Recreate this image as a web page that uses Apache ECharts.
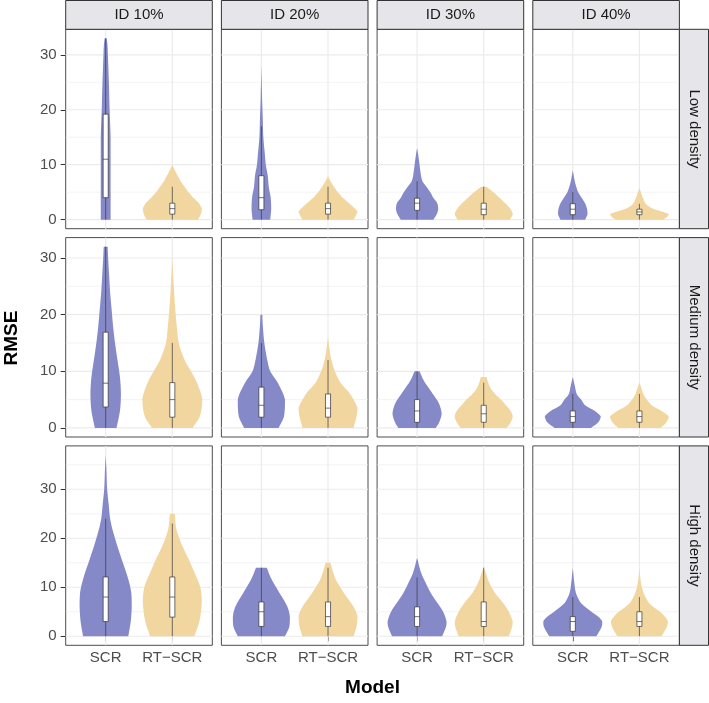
<!DOCTYPE html>
<html>
<head>
<meta charset="utf-8">
<title>RMSE by model</title>
<script src="https://cdn.jsdelivr.net/npm/echarts@6/dist/echarts.min.js"></script>
<style>
  html, body { margin: 0; padding: 0; background: #fff; }
  #chart { width: 709px; height: 703px; }
</style>
</head>
<body>
<div id="chart"></div>
<script>
// facet levels
const idLevels = ['ID 10%', 'ID 20%', 'ID 30%', 'ID 40%'];
const densityLevels = ['Low density', 'Medium density', 'High density'];
const models = ['SCR', 'RT\u2212SCR'];

// violin outlines as [RMSE, density] pairs, order: ID10 SCR, ID10 RT-SCR, ID20 SCR, ...
const lowProfiles = [
  [[0, 10], [5, 10], [10, 10], [15, 10], [20, 8], [25, 6.5], [30, 4.5], [32, 3.5], [33, 2]],
  [[0, 52], [1, 58], [2, 60], [3, 54], [4, 43], [5, 33], [6, 25], [7, 17], [8, 11], [9, 5], [10, 0]],
  [[0, 18], [2, 20], [4, 19], [6, 15], [8, 13], [10, 9], [12, 7], [15, 4], [18, 3], [22, 1.5], [28, 0]],
  [[0, 52], [1, 58], [1.5, 60], [3, 43], [4, 30], [5, 20], [6, 12], [7, 5], [8, 0]],
  [[0, 33], [1, 40], [2, 43], [3, 41], [4, 33], [5, 27], [6, 19], [7, 11], [8, 8], [10, 5], [12, 2], [13, 0]],
  [[0, 53], [1, 59], [2, 54], [3, 44], [4, 32], [5, 20], [6, 5]],
  [[0, 25], [1, 30], [2, 29], [3, 25], [4, 18], [5, 11], [6, 7], [7, 4], [8, 2], [9, 0]],
  [[0, 48], [0.5, 56], [1, 60], [1.5, 45], [2, 28], [2.5, 18], [3, 12], [4, 7], [5, 3], [5.8, 0]]
];
const mediumProfiles = [
  [[0, 22], [3, 29], [6, 31], [9, 29], [12, 24], [15, 19], [18, 15], [21, 12], [24, 9], [27, 7], [30, 5], [32, 4]],
  [[0, 41], [2, 56], [5, 61], [8, 50], [10, 38], [12, 25], [15, 13], [18, 9], [21, 6], [25, 3], [30, 0]],
  [[0, 35], [2, 46], [5, 48], [8, 33], [10, 18], [12, 12], [15, 6], [18, 3], [20, 2]],
  [[0, 52], [2, 58], [3.5, 60], [6, 45], [8, 25], [10, 14], [12, 7], [14, 3], [16, 0]],
  [[0, 38], [1, 45], [2.5, 50], [4, 46], [5, 40], [6, 32], [7, 24], [8, 16], [9, 10], [10, 5]],
  [[0, 47], [1, 55], [2, 59], [3, 55], [4, 45], [5, 35], [6, 23], [7, 14], [8, 9], [9, 6]],
  [[0, 37], [1, 52], [2, 57], [3, 45], [4, 25], [5, 17], [6, 8], [7.5, 4], [9, 0]],
  [[0, 43], [1, 55], [2, 60], [3, 45], [4, 25], [5, 15], [6, 8], [7, 4], [8, 0]]
];
const highProfiles = [
  [[0, 46], [3, 51], [6, 53], [9, 52], [12, 45], [15, 35], [18, 25], [21, 16], [24, 9], [27, 6], [30, 3], [34, 1.5], [37, 0]],
  [[0, 45], [3, 55], [7, 60], [10, 57], [13, 45], [16, 32], [19, 18], [22, 8], [25, 5]],
  [[0, 48], [2, 57], [4, 58], [6, 53], [8, 42], [10, 30], [12, 19], [14, 11]],
  [[0, 52], [2, 58], [4, 60], [6, 52], [8, 38], [10, 25], [12, 14], [15, 5]],
  [[0, 51], [2, 59], [3, 60], [5, 53], [7, 40], [9, 27], [11, 17], [13, 8], [16, 0]],
  [[0, 51], [2, 58], [3, 59], [5, 51], [7, 38], [9, 22], [11, 11], [13, 4], [14, 0]],
  [[0, 48], [2, 59], [3, 60], [4, 52], [5, 38], [6, 25], [7, 15], [9, 6], [11, 3], [14, 0]],
  [[0, 45], [2, 56], [3, 58], [4, 52], [5, 42], [6, 28], [7, 18], [9, 8], [11, 3], [14, 0]]
];

// boxplot stats: [lower whisker, q1, median, q3, upper whisker]
const lowBoxes = [
  [0, 4, 11, 19.2, 33], [0, 1, 2, 3, 6], [0, 1.8, 4, 8, 17], [0, 1, 2, 3, 6],
  [0, 1.7, 3, 3.9, 7], [0, 0.9, 1.9, 3, 6], [0, 0.9, 1.9, 2.9, 5], [0, 0.9, 1.4, 1.9, 2.9]
];
const mediumBoxes = [
  [0, 3.7, 7.9, 16.9, 32], [0, 1.9, 5, 8, 15], [0, 1.9, 4, 7.2, 15], [0, 1.9, 3.5, 6, 12],
  [0, 1, 3, 5, 10], [0, 1, 2.5, 4, 8], [0, 1, 2, 3, 6], [0, 1, 2, 3, 6]
];
const highBoxes = [
  [0, 3, 8, 12.1, 24], [0, 3.9, 8, 12.1, 23], [0, 2, 5, 7, 14], [0, 2, 4, 7, 14],
  [0, 2, 4, 6, 12], [0, 2, 3, 7, 14], [0, 1, 3, 4, 8], [0, 2, 3, 5, 8]
];

// y breaks
const yBreaks = [0, 10, 20, 30];
const yMinorBreaks = [5, 15, 25, 35];

const rowProfiles = [lowProfiles, mediumProfiles, highProfiles];
const rowBoxes = [lowBoxes, mediumBoxes, highBoxes];

// layout
const colLeft = [65.7, 221.4, 377.1, 532.8];
const rowTop = [29.3, 237.6, 445.9];
const panelW = 146.6;
const panelH = 199.4;
const fills = ['#8589C8', '#F2D6A0'];
const font = 'Liberation Sans, Arial, sans-serif';

const maxDens = 61;
const halfViolin = 0.45;
const boxHalf = 0.038;

const chart = echarts.init(document.getElementById('chart'));

const grids = [], xAxes = [], yAxes = [], series = [];

rowProfiles.forEach((profs, r) => {
  // data range with 5% expansion like ggplot
  const yMaxData = Math.max(...rowBoxes[r].map(b => b[4]), ...profs.map(p => p[p.length - 1][0]));
  const yMin = -0.05 * yMaxData;
  const yMax = yMaxData * 1.05;
  for (let c = 0; c < 4; c++) {
    const gi = grids.length;
    grids.push({
      left: colLeft[c], top: rowTop[r], width: panelW, height: panelH,
      show: true, borderColor: '#4D4D4D', borderWidth: 1, backgroundColor: '#fff'
    });
    xAxes.push({
      gridIndex: gi, type: 'value', min: 0.4, max: 2.6,
      axisLine: { show: false },
      axisTick: { show: r === 2, length: 5, customValues: [1, 2], lineStyle: { color: '#333' } },
      axisLabel: {
        show: r === 2, customValues: [1, 2], margin: 5,
        color: '#4D4D4D', fontSize: 15, fontFamily: font,
        formatter: v => (v === 1 ? models[0] : v === 2 ? models[1] : '')
      },
      splitLine: { show: false }
    });
    yAxes.push({
      gridIndex: gi, type: 'value', min: yMin, max: yMax,
      axisLine: { show: false },
      axisTick: { show: c === 0, length: 5, customValues: yBreaks, lineStyle: { color: '#333' } },
      axisLabel: {
        show: c === 0, customValues: yBreaks, margin: 9,
        color: '#4D4D4D', fontSize: 15, fontFamily: font,
        formatter: v => (yBreaks.includes(v) ? String(v) : '')
      },
      splitLine: { show: false }
    });

    // panel grid lines
    series.push({
      type: 'custom', xAxisIndex: gi, yAxisIndex: gi, silent: true, z: 1,
      data: [[0]],
      renderItem: (params, api) => {
        const cs = params.coordSys;
        const kids = [];
        const hline = (v, w) => {
          const p = api.coord([1, v]);
          kids.push({ type: 'line', shape: { x1: cs.x, y1: p[1], x2: cs.x + cs.width, y2: p[1] },
            style: { stroke: '#EBEBEB', lineWidth: w } });
        };
        yMinorBreaks.filter(v => v < yMax).forEach(v => hline(v, 0.6));
        yBreaks.filter(v => v < yMax).forEach(v => hline(v, 1.2));
        [1, 2].forEach(x => {
          const p = api.coord([x, 0]);
          kids.push({ type: 'line', shape: { x1: p[0], y1: cs.y, x2: p[0], y2: cs.y + cs.height },
            style: { stroke: '#EBEBEB', lineWidth: 1.2 } });
        });
        return { type: 'group', children: kids };
      }
    });

    // violins + boxes
    const panelProfs = [profs[c * 2], profs[c * 2 + 1]];
    const panelBoxes = [rowBoxes[r][c * 2], rowBoxes[r][c * 2 + 1]];
    series.push({
      type: 'custom', xAxisIndex: gi, yAxisIndex: gi, silent: true, z: 2,
      data: panelBoxes.map((b, k) => [k + 1, ...b]),
      renderItem: (params, api) => {
        const k = params.dataIndex;
        const xc = api.value(0);
        const prof = panelProfs[k];
        const n = prof.length;
        const leftSide = prof.map(p => api.coord([xc - p[1] / maxDens * halfViolin, p[0]]));
        const rightSide = prof.map(p => api.coord([xc + p[1] / maxDens * halfViolin, p[0]])).reverse();
        // doubled corner points keep the flat base / flat top straight when smoothing
        const pts = [leftSide[0]].concat(leftSide);
        if (prof[n - 1][1] > 0) pts.push(leftSide[n - 1]);
        if (prof[n - 1][1] > 0) pts.push(rightSide[0]);
        pts.push(...rightSide, rightSide[n - 1]);
        const xs = pts.map(p => p[0]), ys = pts.map(p => p[1]);
        const bounds = [[Math.min(...xs), Math.min(...ys)], [Math.max(...xs), Math.max(...ys)]];
        const lo = api.coord([xc, api.value(1)]);
        const hi = api.coord([xc, api.value(5)]);
        const b1 = api.coord([xc - boxHalf, api.value(4)]);
        const b2 = api.coord([xc + boxHalf, api.value(2)]);
        const m1 = api.coord([xc - boxHalf, api.value(3)]);
        const m2 = api.coord([xc + boxHalf, api.value(3)]);
        return {
          type: 'group',
          children: [
            { type: 'polygon', shape: { points: pts, smooth: 0.3, smoothConstraint: bounds }, style: { fill: fills[k] } },
            { type: 'line', shape: { x1: lo[0], y1: lo[1], x2: hi[0], y2: hi[1] },
              style: { stroke: '#3a3a3a', lineWidth: 0.7 } },
            { type: 'rect', shape: { x: b1[0], y: b1[1], width: b2[0] - b1[0], height: b2[1] - b1[1] },
              style: { fill: '#fff', stroke: '#333', lineWidth: 0.7 } },
            { type: 'line', shape: { x1: m1[0], y1: m1[1], x2: m2[0], y2: m2[1] },
              style: { stroke: '#333', lineWidth: 0.7 } }
          ]
        };
      }
    });
  }
});

// facet strips and axis titles
const graphics = [];
idLevels.forEach((lab, c) => {
  graphics.push({
    type: 'rect', shape: { x: colLeft[c], y: 0.5, width: panelW, height: rowTop[0] - 0.5 },
    style: { fill: '#E6E6EA', stroke: '#333', lineWidth: 1 }, z: 10
  });
  graphics.push({
    type: 'text', x: colLeft[c] + panelW / 2, y: rowTop[0] / 2 + 0.5,
    style: { text: lab, fill: '#1A1A1A', font: '15px ' + font, textAlign: 'center', textVerticalAlign: 'middle' }, z: 11
  });
});
densityLevels.forEach((lab, r) => {
  const sx = colLeft[3] + panelW;
  graphics.push({
    type: 'rect', shape: { x: sx, y: rowTop[r], width: 708.5 - sx, height: panelH },
    style: { fill: '#E6E6EA', stroke: '#333', lineWidth: 1 }, z: 10
  });
  graphics.push({
    type: 'text', x: (sx + 708.5) / 2, y: rowTop[r] + panelH / 2, rotation: -Math.PI / 2,
    style: { text: lab, fill: '#1A1A1A', font: '15px ' + font, textAlign: 'center', textVerticalAlign: 'middle' }, z: 11
  });
});
graphics.push({
  type: 'text', x: 12, y: 338, rotation: Math.PI / 2,
  style: { text: 'RMSE', fill: '#000', font: 'bold 19px ' + font, textAlign: 'center', textVerticalAlign: 'middle' }
});
graphics.push({
  type: 'text', x: 372.5, y: 688,
  style: { text: 'Model', fill: '#000', font: 'bold 19px ' + font, textAlign: 'center', textVerticalAlign: 'middle' }
});

chart.setOption({
  animation: false,
  backgroundColor: '#fff',
  grid: grids,
  xAxis: xAxes,
  yAxis: yAxes,
  series: series,
  graphic: graphics
});
</script>
</body>
</html>
